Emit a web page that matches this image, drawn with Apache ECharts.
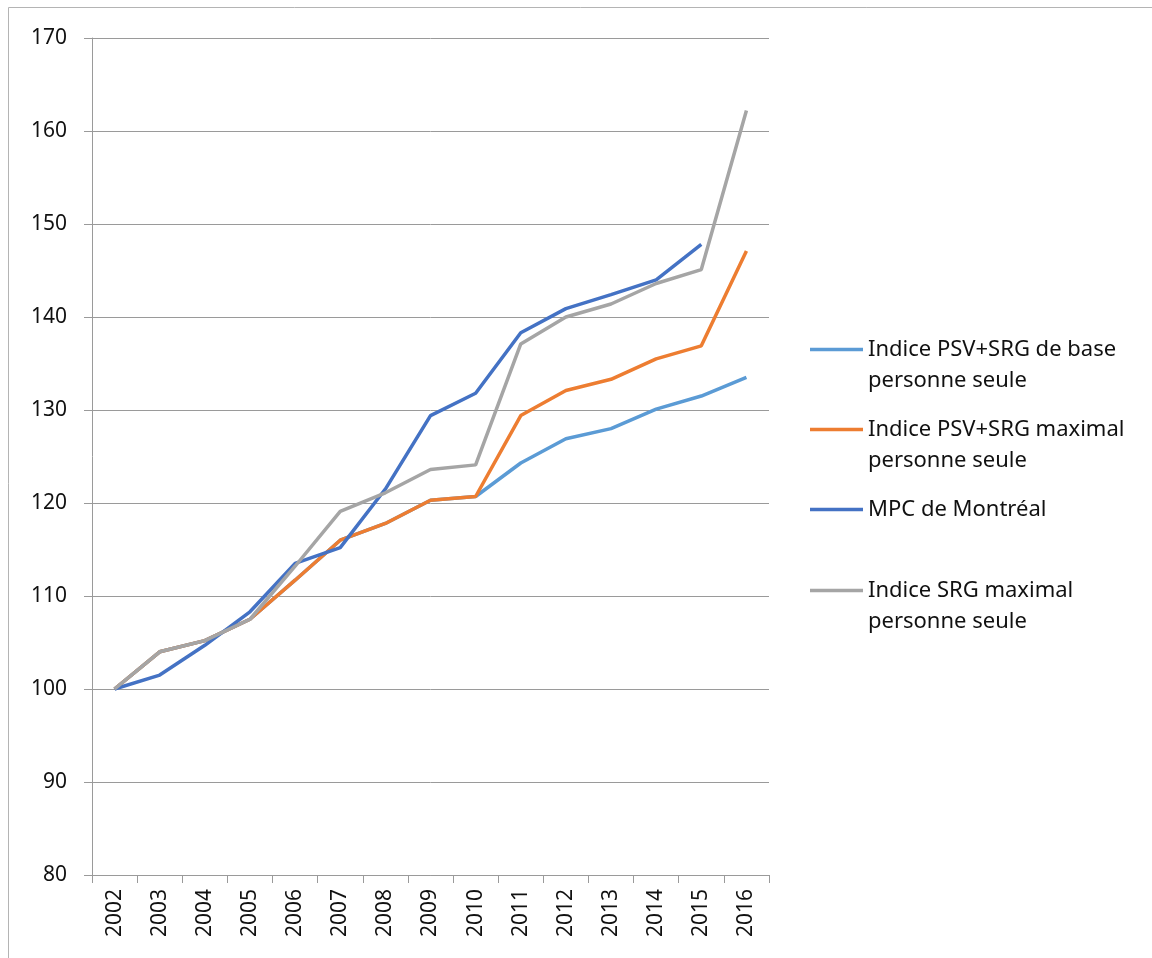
<!DOCTYPE html>
<html lang="fr">
<head>
    <meta charset="UTF-8">
    <title>Indices</title>
    <script src="https://cdn.jsdelivr.net/npm/echarts@6/dist/echarts.min.js"></script>
    <style>
        html, body { margin: 0; padding: 0; background: #fff; }
    </style>
</head>
<body>
<div id="main" style="width: 1152px;height:958px;"></div>
<script>
    // données
    var annees = ['2002', '2003', '2004', '2005', '2006', '2007', '2008', '2009',
        '2010', '2011', '2012', '2013', '2014', '2015', '2016'];
    var psvSrgBase = [100, 104, 105.2, 107.5, 111.7, 116, 117.8, 120.3, 120.7, 124.3, 126.9, 128, 130.1, 131.5, 133.5];
    var psvSrgMax = [100, 104, 105.2, 107.5, 111.7, 116, 117.8, 120.3, 120.7, 129.4, 132.1, 133.3, 135.5, 136.9, 147.1];
    var mpcMontreal = [100, 101.5, 104.7, 108.3, 113.5, 115.2, 121.5, 129.4, 131.8, 138.3, 140.9, 142.4, 144, 147.8, null];
    var srgMax = [100, 104, 105.2, 107.5, 113.2, 119.1, 121.1, 123.6, 124.1, 137.1, 140, 141.4, 143.6, 145.1, 162.2];
    var yTicks = { min: 80, max: 170, interval: 10 };

    var noms = ['Indice PSV+SRG de base personne seule', 'Indice PSV+SRG maximal personne seule',
        'MPC de Montréal', 'Indice SRG maximal personne seule'];
    var libelles = ['\nIndice PSV+SRG de base\npersonne seule', '\nIndice PSV+SRG maximal\npersonne seule',
        'MPC de Montréal', '\nIndice SRG maximal\npersonne seule'];
    var couleurs = ['#5B9BD5', '#ED7D31', '#4472C4', '#A5A5A5'];
    var donnees = [psvSrgBase, psvSrgMax, mpcMontreal, srgMax];
    var legendeTop = [303, 383, 494, 544];

    var police = '"Noto Sans", sans-serif';
    var gris = '#9a9a9a';

    var series = [];
    var legendes = [];
    for (var i = 0; i < noms.length; i++) {
        series.push({
            name: noms[i],
            type: 'line',
            data: donnees[i],
            symbol: 'none',
            color: couleurs[i],
            lineStyle: { width: 3.5, color: couleurs[i] },
            z: 2 + i
        });
        legendes.push({
            data: [noms[i]],
            orient: 'vertical',
            left: 810,
            top: legendeTop[i],
            padding: 0,
            itemWidth: 53,
            itemHeight: 14,
            itemGap: 4,
            icon: 'path://M0,5.5 L53,5.5 L53,9 L0,9 Z',
            formatter: (function (t) { return function () { return t; }; })(libelles[i]),
            textStyle: { fontFamily: police, fontSize: 22, lineHeight: 31, color: '#111' }
        });
    }

    var myChart = echarts.init(document.getElementById('main'));
    myChart.setOption({
        animation: false,
        backgroundColor: '#fff',
        graphic: [{
            type: 'rect',
            shape: { x: 8.5, y: 7.5, width: 1300, height: 1100 },
            style: { fill: null, stroke: '#b4b4b4', lineWidth: 1 },
            silent: true
        }],
        legend: legendes,
        grid: { left: 92, right: 383, top: 38, bottom: 83 },
        xAxis: {
            type: 'category',
            data: annees,
            boundaryGap: true,
            axisLine: { lineStyle: { color: gris, width: 1 } },
            axisTick: { show: true, length: 8, lineStyle: { color: gris } },
            axisLabel: { rotate: 90, margin: 14, fontFamily: police, fontSize: 21, color: '#111' },
            splitLine: { show: false }
        },
        yAxis: {
            type: 'value',
            min: yTicks.min,
            max: yTicks.max,
            interval: yTicks.interval,
            axisLine: { show: true, lineStyle: { color: gris, width: 1 } },
            axisTick: { show: true, length: 8, lineStyle: { color: gris } },
            axisLabel: { margin: 25, fontFamily: police, fontSize: 21, color: '#111' },
            splitLine: { show: true, lineStyle: { color: gris, width: 1 } }
        },
        series: series
    });
</script>
</body>
</html>
